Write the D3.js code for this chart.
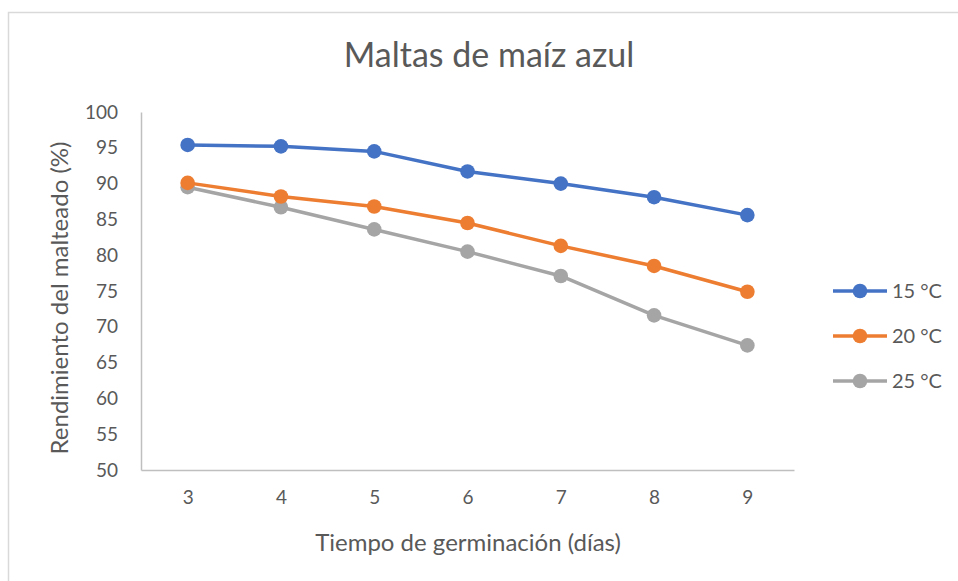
<!DOCTYPE html>
<html>
<head>
<meta charset="utf-8">
<script src="https://cdn.jsdelivr.net/npm/d3@7"></script>
<style>
  body { margin: 0; background: #fff; }
  svg { display: block; font-family: Lato, "Open Sans", sans-serif; }
</style>
</head>
<body>
<svg id="chart" width="958" height="581"></svg>
<script>
// datos
const dias = [3, 4, 5, 6, 7, 8, 9];
const t15 = [95.4, 95.2, 94.5, 91.7, 90.0, 88.1, 85.6];
const t20 = [90.1, 88.2, 86.8, 84.5, 81.3, 78.5, 74.9];
const t25 = [89.5, 86.7, 83.6, 80.5, 77.1, 71.6, 67.4];
const seriesNames = ['15 °C', '20 °C', '25 °C'];
const yTicks = [50, 55, 60, 65, 70, 75, 80, 85, 90, 95, 100];

const colors = ['#4472C4', '#ED7D31', '#A5A5A5'];
const series = [t15, t20, t25].map((vals, i) => ({ name: seriesNames[i], color: colors[i], vals }));

const margin = { top: 112, right: 164, bottom: 111, left: 141 };
const W = 958, H = 581;
const cW = W - margin.left - margin.right;
const cH = H - margin.top - margin.bottom;

const svg = d3.select('#chart');

// marco del area del grafico
svg.append('rect')
  .attr('x', 8.5).attr('y', 12.5)
  .attr('width', 970).attr('height', 600)
  .attr('fill', 'none').attr('stroke', '#D9D9D9').attr('stroke-width', 1.5);

svg.append('text')
  .attr('x', 489).attr('y', 67)
  .attr('text-anchor', 'middle')
  .attr('font-size', 34).attr('fill', '#595959')
  .text('Maltas de maíz azul');

const g = svg.append('g').attr('transform', `translate(${margin.left},${margin.top})`);

const x = d3.scalePoint().domain(dias).range([0, cW]).padding(0.5);
const y = d3.scaleLinear().domain([50, 100]).range([cH, 0]);

// eje y
const yAxis = g.append('g').call(d3.axisLeft(y).tickValues(yTicks).tickSize(0).tickPadding(23));
yAxis.select('.domain').attr('stroke', '#BFBFBF').attr('stroke-width', 1.5);
yAxis.selectAll('text').attr('font-size', 19).attr('fill', '#595959').attr('font-family', 'Lato, sans-serif');

// eje x
const xAxis = g.append('g').attr('transform', `translate(0,${cH})`)
  .call(d3.axisBottom(x).tickSize(0).tickPadding(21));
xAxis.select('.domain').attr('stroke', '#BFBFBF').attr('stroke-width', 1.5);
xAxis.selectAll('text').attr('font-size', 19).attr('fill', '#595959').attr('font-family', 'Lato, sans-serif');

svg.append('text')
  .attr('x', 468).attr('y', 551)
  .attr('text-anchor', 'middle')
  .attr('font-size', 24).attr('fill', '#595959')
  .text('Tiempo de germinación (días)');

svg.append('text')
  .attr('transform', 'translate(68,298) rotate(-90)')
  .attr('text-anchor', 'middle')
  .attr('font-size', 24).attr('fill', '#595959')
  .text('Rendimiento del malteado (%)');

const line = d3.line().x((d, i) => x(dias[i])).y(d => y(d));

// series: gris primero para que quede debajo
const order = [2, 1, 0];
for (const k of order) {
  const s = series[k];
  g.append('path')
    .datum(s.vals)
    .attr('d', line)
    .attr('fill', 'none')
    .attr('stroke', s.color)
    .attr('stroke-width', 3.5)
    .attr('stroke-linejoin', 'round');
  g.selectAll(null).data(s.vals).enter().append('circle')
    .attr('cx', (d, i) => x(dias[i]))
    .attr('cy', d => y(d))
    .attr('r', 7.3)
    .attr('fill', s.color);
}

// leyenda
const leg = svg.append('g');
series.forEach((s, i) => {
  const ly = 291 + i * 45;
  leg.append('line').attr('x1', 833).attr('x2', 887).attr('y1', ly).attr('y2', ly)
    .attr('stroke', s.color).attr('stroke-width', 3.5);
  leg.append('circle').attr('cx', 860).attr('cy', ly).attr('r', 7.3).attr('fill', s.color);
  leg.append('text').attr('x', 892).attr('y', ly + 7)
    .attr('font-size', 20).attr('fill', '#595959')
    .text(s.name);
});
</script>
</body>
</html>
